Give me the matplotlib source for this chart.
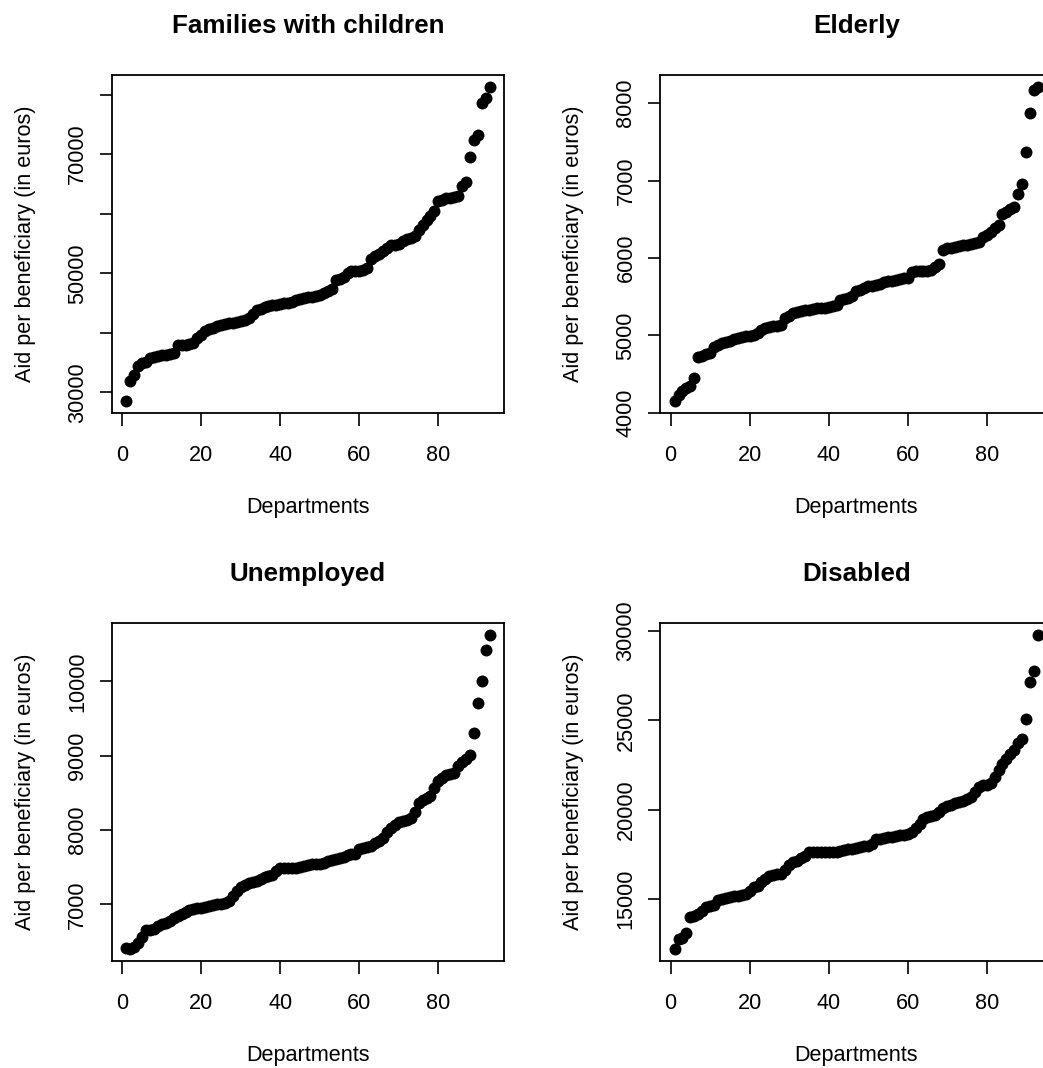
import numpy as np
import matplotlib
matplotlib.use("Agg")
import matplotlib.pyplot as plt

# aid per beneficiary, sorted, one value per department
families = [28600, 31950, 32900, 34460, 34900, 35130, 35860, 36030, 36140, 36250,
            36300, 36420, 36580, 37920, 38030, 38030, 38090, 38260, 39200, 39710,
            40320, 40710, 40880, 41100, 41270, 41440, 41610, 41720, 41890, 42000,
            42160, 42550, 43110, 43840, 44060, 44280, 44450, 44620, 44730, 44900,
            44950, 45070, 45230, 45460, 45680, 45900, 45960, 46010, 46180, 46350,
            46630, 46960, 47300, 48860, 49080, 49420, 49980, 50310, 50370, 50420,
            50530, 50810, 52430, 52880, 53320, 53770, 54270, 54720, 54780, 55000,
            55450, 55780, 55950, 56340, 57340, 58180, 58900, 59570, 60410, 62090,
            62360, 62590, 62700, 62810, 62920, 64600, 65270, 69450, 72300, 73250,
            78550, 79380, 81220]

elderly = [4156, 4229, 4285, 4315, 4349, 4456, 4726, 4734, 4756, 4777,
           4854, 4880, 4897, 4914, 4931, 4949, 4966, 4979, 4991, 4996,
           5004, 5034, 5064, 5090, 5111, 5120, 5128, 5133, 5227, 5248,
           5291, 5304, 5313, 5326, 5334, 5347, 5351, 5351, 5355, 5364,
           5377, 5398, 5463, 5471, 5484, 5514, 5570, 5591, 5612, 5634,
           5642, 5655, 5668, 5685, 5698, 5707, 5711, 5728, 5737, 5741,
           5814, 5827, 5827, 5831, 5831, 5848, 5878, 5925, 6105, 6126,
           6135, 6144, 6156, 6165, 6174, 6182, 6191, 6204, 6268, 6298,
           6341, 6383, 6426, 6568, 6598, 6628, 6662, 6820, 6953, 7369,
           7870, 8169, 8204]

unemployed = [6405, 6401, 6428, 6481, 6557, 6647, 6660, 6669, 6714, 6736,
              6750, 6772, 6817, 6848, 6870, 6893, 6920, 6937, 6946, 6955,
              6960, 6973, 6987, 7000, 7009, 7018, 7040, 7107, 7183, 7232,
              7264, 7286, 7295, 7317, 7340, 7362, 7375, 7398, 7443, 7487,
              7487, 7487, 7492, 7492, 7501, 7519, 7527, 7536, 7541, 7545,
              7554, 7577, 7590, 7608, 7621, 7635, 7666, 7675, 7679, 7742,
              7755, 7769, 7787, 7831, 7854, 7898, 7979, 8024, 8068, 8104,
              8122, 8135, 8167, 8247, 8359, 8404, 8426, 8457, 8560, 8663,
              8694, 8739, 8748, 8770, 8860, 8918, 8962, 9007, 9311, 9713,
              9999, 10428, 10621]

disabled = [12211, 12769, 12825, 13067, 13996, 14071, 14182, 14312, 14535, 14628,
            14647, 14963, 15000, 15037, 15093, 15149, 15186, 15223, 15297, 15465,
            15669, 15744, 15930, 16115, 16264, 16357, 16394, 16413, 16636, 16915,
            17045, 17101, 17287, 17380, 17603, 17603, 17603, 17603, 17603, 17603,
            17621, 17640, 17696, 17751, 17789, 17807, 17863, 17900, 17937, 17974,
            18049, 18346, 18383, 18421, 18458, 18495, 18532, 18569, 18606, 18644,
            18774, 18960, 19183, 19462, 19573, 19648, 19703, 19889, 20112, 20205,
            20261, 20354, 20447, 20503, 20577, 20689, 21005, 21246, 21376, 21395,
            21469, 21841, 22213, 22548, 22808, 23105, 23328, 23737, 23979, 25094,
            27139, 27753, 29761]

titles = ["Families with children", "Elderly", "Unemployed", "Disabled"]
series = [families, elderly, unemployed, disabled]
yticks = [[30000, 40000, 50000, 60000, 70000, 80000],
          [4000, 5000, 6000, 7000, 8000],
          [7000, 8000, 9000, 10000],
          [15000, 20000, 25000, 30000]]
ylabels = [["30000", "", "50000", "", "70000", ""],
           ["4000", "5000", "6000", "7000", "8000"],
           ["7000", "8000", "9000", "10000"],
           ["15000", "20000", "25000", "30000"]]
xticks = [0, 20, 40, 60, 80]

plt.rcParams["font.family"] = ["Liberation Sans", "DejaVu Sans"]

fig = plt.figure(figsize=(10.43, 10.68), dpi=100)

# panel boxes (left, bottom) in figure fraction; right column runs off the edge
w, h = 0.3764, 0.3170
pos = [(0.1071, 0.6130), (0.6328, 0.6130), (0.1071, 0.0999), (0.6328, 0.0999)]

for i in range(4):
    ax = fig.add_axes([pos[i][0], pos[i][1], w, h])
    y = np.array(series[i])
    x = np.arange(1, len(y) + 1)
    ax.plot(x, y, "o", color="black", markersize=8.6, markeredgewidth=0)

    # R style 4% padding
    xr = x.max() - x.min()
    ax.set_xlim(x.min() - 0.04 * xr, x.max() + 0.04 * xr)
    yr = y.max() - y.min()
    ax.set_ylim(y.min() - 0.04 * yr, y.max() + 0.04 * yr)

    ax.set_xticks(xticks)
    ax.set_yticks(yticks[i])
    ax.set_yticklabels(ylabels[i], rotation=90, va="center")
    ax.tick_params(length=9, width=1.2, labelsize=15.6, direction="out")
    ax.tick_params(axis="x", pad=13.5)
    ax.tick_params(axis="y", pad=8)
    for sp in ax.spines.values():
        sp.set_linewidth(1.3)

    ax.set_title(titles[i], fontsize=18.7, fontweight="bold", y=1.122, va="baseline", pad=0)
    ax.set_xlabel("Departments", fontsize=15.6, va="baseline")
    ax.xaxis.set_label_coords(0.5, -0.2944)
    ax.set_ylabel("Aid per beneficiary (in euros)", fontsize=15.6, va="center")
    ax.yaxis.set_label_coords(-0.22, 0.5)

fig.savefig("out.png", dpi=100)
